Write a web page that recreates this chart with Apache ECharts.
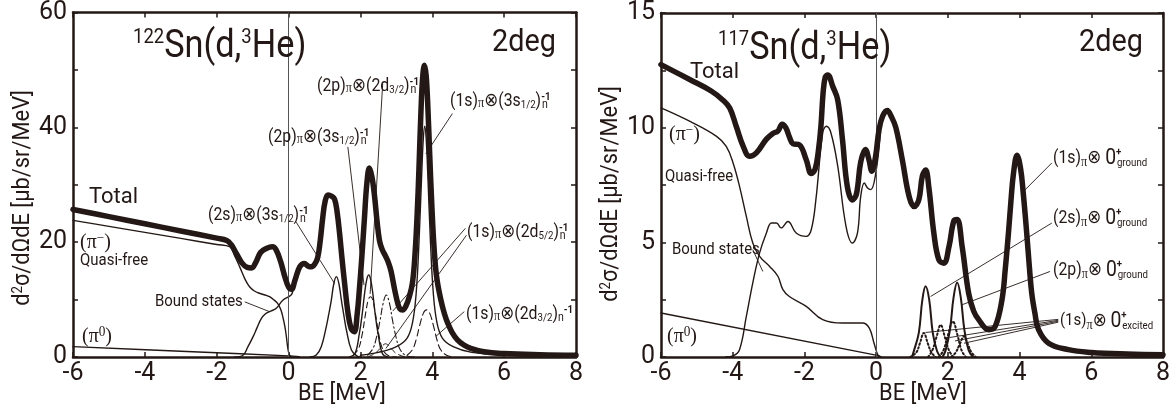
<!DOCTYPE html>
<html>
<head>
<meta charset="utf-8">
<script src="https://cdn.jsdelivr.net/npm/echarts@6/dist/echarts.min.js"></script>
<style>
html, body { margin: 0; padding: 0; background: #fff; }
#chart { width: 1173px; height: 412px; }
</style>
</head>
<body>
<div id="chart"></div>
<script>
// 颜色和字体
var INK = '#231815';
var FONT = 'Roboto';
var SERIF = 'Liberation Serif';

// 坐标轴
var xMin = -6, xMax = 8, xStep = 2;
var leftYMax = 60, leftYStep = 10, leftYLabelStep = 20;
var rightYMax = 15, rightYStep = 2.5, rightYLabelStep = 5;

// ---------------- 122Sn (左图) ----------------
var leftTotal = [[-6,25.7],[-5,24.45],[-4,23.2],[-3,21.95],[-2,20.7],[-1.72,20.3],[-1.6,19.6],[-1.45,18.0],[-1.3,16.4],[-1.15,15.6],[-1.03,15.5],[-0.92,16.4],[-0.78,18.2],[-0.62,18.9],[-0.45,19.2],[-0.35,18.7],[-0.22,16.6],[-0.1,13.9],[0.0,12.2],[0.08,11.8],[0.18,13.4],[0.31,15.7],[0.44,16.3],[0.55,15.8],[0.64,15.7],[0.73,16.2],[0.81,17.3],[0.88,20.2],[0.95,24.2],[1.02,27.2],[1.1,28.2],[1.2,28.0],[1.28,27.5],[1.35,25.3],[1.42,21.5],[1.49,17.0],[1.56,12.8],[1.65,7.8],[1.74,5.0],[1.83,4.4],[1.91,7.5],[1.97,11.7],[2.04,17.5],[2.11,24.0],[2.18,30.3],[2.25,32.9],[2.32,31.4],[2.39,28.2],[2.46,23.8],[2.53,20.3],[2.6,18.8],[2.68,17.8],[2.77,16.6],[2.85,15.0],[2.95,11.8],[3.04,9.3],[3.1,8.4],[3.17,8.2],[3.26,8.8],[3.36,10.5],[3.45,13],[3.52,18],[3.58,25],[3.63,33],[3.68,42],[3.73,48.5],[3.78,50.8],[3.83,49],[3.88,43],[3.93,35],[3.99,26],[4.05,19],[4.12,14],[4.24,9.9],[4.34,7.5],[4.43,5.9],[4.55,4.3],[4.7,3.0],[4.88,2.1],[5.07,1.5],[5.44,0.9],[6,0.6],[7,0.4],[8,0.3]];
var leftQuasiFree = [[-6,23.8],[-5,22.75],[-4,21.7],[-3,20.65],[-2,19.6],[-1.64,19.2],[-1.5,17.6],[-1.36,15.7],[-1.2,13.4],[-1.08,12.2],[-0.95,11.5],[-0.81,11.1],[-0.65,10.8],[-0.53,10.5],[-0.4,9.9],[-0.3,9.3],[-0.22,8.3],[-0.16,7.0],[-0.1,5.2],[-0.06,3.5],[-0.02,1.5],[0.03,0.3],[0.1,0]];
var leftBound = [[-1.5,0],[-1.27,0.3],[-1.13,1.8],[-0.99,3.5],[-0.87,5.2],[-0.76,6.7],[-0.65,7.5],[-0.53,7.9],[-0.34,8.5],[-0.16,9.9],[0.07,10.8],[0.12,11.6]];
var leftPi0 = [[-6,1.8],[-3,1.0],[0,0.2],[0.3,0.05]];
var left2s3s = [[0.6,0],[0.77,0.35],[0.91,1.8],[1.05,5.3],[1.12,7.5],[1.19,9.9],[1.26,12.8],[1.33,14.0],[1.4,12.8],[1.47,9.9],[1.54,7.2],[1.61,4.7],[1.75,1.2],[1.9,0.2],[2.0,0]];
var left2p3s = [[1.7,0],[1.85,0.6],[1.97,4.1],[2.05,7.5],[2.12,11.3],[2.18,13.6],[2.23,14.3],[2.28,13.6],[2.34,11.3],[2.41,7.5],[2.49,4.1],[2.61,0.6],[2.75,0]];
var left2p2d = [[1.8,0.3],[1.95,1.5],[2.05,4],[2.15,7.8],[2.22,10],[2.28,10.5],[2.34,10],[2.41,7.8],[2.51,4],[2.61,1.5],[2.76,0.3],[3,0]];
var left1s2d5a = [[2.2,0.3],[2.35,1.5],[2.45,3.5],[2.55,6.5],[2.63,9.3],[2.72,10.8],[2.81,9.3],[2.89,6.5],[2.99,3.5],[3.09,1.5],[3.25,0.3],[3.5,0]];
var left1s2d5b = [[2.2,0],[2.4,0.6],[2.55,1.5],[2.7,2.3],[2.85,1.5],[3.0,0.6],[3.25,0]];
var left1s3s = [[2.0,0.3],[2.5,0.8],[3.0,1.8],[3.3,3.3],[3.45,6],[3.55,11],[3.63,20],[3.7,31],[3.75,38],[3.79,40.2],[3.83,38],[3.88,31],[3.95,20],[4.03,11],[4.13,6],[4.28,3.3],[4.58,1.8],[5.1,0.8],[6,0.35],[8,0.15]];
var left1s2d3 = [[3.3,0.3],[3.45,1.3],[3.55,3],[3.65,5.5],[3.75,7.6],[3.84,8.2],[3.93,7.6],[4.03,5.5],[4.13,3],[4.23,1.3],[4.4,0.3],[4.6,0]];

// ---------------- 117Sn (右图) ----------------
var rightTotal = [[-6,12.75],[-5.2,12.1],[-4.6,11.6],[-4.27,11.2],[-4.08,10.85],[-3.9,10.05],[-3.71,9.2],[-3.53,8.75],[-3.34,8.9],[-3.06,9.5],[-2.88,9.75],[-2.74,9.85],[-2.62,10.15],[-2.52,10.0],[-2.42,9.6],[-2.32,9.3],[-2.14,9.25],[-1.95,8.6],[-1.81,8.0],[-1.7,8.2],[-1.61,9.0],[-1.54,10.05],[-1.48,11.5],[-1.42,12.2],[-1.35,12.3],[-1.21,11.8],[-1.07,11.2],[-0.94,9.5],[-0.8,7.4],[-0.66,6.85],[-0.55,7.1],[-0.43,8.5],[-0.3,9.05],[-0.2,8.6],[-0.12,8.1],[-0.02,8.7],[0.08,9.9],[0.18,10.5],[0.31,10.75],[0.42,10.5],[0.55,10.0],[0.73,8.6],[0.92,7.0],[1.06,6.56],[1.19,6.85],[1.29,7.9],[1.38,8.15],[1.47,7.4],[1.61,5.4],[1.75,4.23],[1.89,4.09],[2.03,4.8],[2.17,5.95],[2.26,6.0],[2.4,4.8],[2.58,2.78],[2.72,2.0],[2.86,1.63],[3.14,1.19],[3.32,1.33],[3.51,2.5],[3.6,3.8],[3.69,5.4],[3.76,6.8],[3.83,8.0],[3.93,8.8],[4.03,8.2],[4.1,7.2],[4.2,5.4],[4.27,4.0],[4.34,2.78],[4.43,1.9],[4.53,1.19],[4.81,0.6],[5.36,0.32],[6,0.2],[7,0.13],[8,0.1]];
var rightQuasiFree = [[-6,10.86],[-5.19,10.27],[-4.45,9.62],[-4.18,9.18],[-3.99,8.46],[-3.81,7.44],[-3.62,6.13],[-3.44,4.97],[-3.25,4.39],[-2.97,3.95],[-2.74,3.52],[-2.6,2.94],[-2.42,2.64],[-1.95,2.21],[-1.49,1.63],[-0.94,1.48],[-0.38,1.48],[-0.19,1.26],[-0.06,0.61],[0.06,0.05],[0.15,0]];
var rightBound = [[-4.2,0],[-3.99,0.05],[-3.81,0.32],[-3.62,1.77],[-3.44,3.23],[-3.25,4.54],[-3.06,5.41],[-2.92,5.84],[-2.78,5.84],[-2.65,5.63],[-2.46,5.91],[-2.23,5.41],[-1.95,5.26],[-1.81,5.55],[-1.68,6.86],[-1.49,9.77],[-1.39,10.06],[-1.26,9.77],[-1.07,8.31],[-0.84,5.7],[-0.66,4.97],[-0.52,5.41],[-0.43,7.0],[-0.33,7.59],[-0.24,7.37],[-0.15,7.3],[-0.01,8.02],[0.12,9.8]];
var rightPi0 = [[-6,1.92],[0.1,0.05]];
var right2s = [[1.0,0],[1.06,0.3],[1.19,1.05],[1.29,2.5],[1.38,3.08],[1.48,2.5],[1.58,1.05],[1.7,0.25],[1.8,0]];
var right2p = [[1.85,0],[1.94,0.3],[2.06,1.2],[2.16,2.6],[2.26,3.25],[2.36,2.6],[2.46,1.2],[2.58,0.3],[2.7,0]];
var rightExcA = [[0.95,0],[1.12,0.2],[1.22,0.6],[1.33,1.05],[1.44,0.6],[1.54,0.2],[1.66,0]];
var rightExcB = [[1.45,0],[1.57,0.3],[1.68,0.85],[1.8,1.4],[1.92,0.85],[2.03,0.3],[2.15,0]];
var rightExcC = [[1.75,0],[1.88,0.3],[2.0,0.95],[2.14,1.55],[2.27,0.95],[2.38,0.3],[2.5,0]];
var rightExcD = [[2.1,0],[2.22,0.2],[2.33,0.55],[2.45,0.9],[2.56,0.55],[2.66,0.2],[2.78,0]];

// 引线 (数据坐标)
var leftLeaders = [
    [[-1.22,9.6],[-0.53,7.9]],
    [[0.21,23.5],[1.28,12.8]],
    [[1.65,36.6],[2.1,12.5]],
    [[2.62,47.6],[2.27,11]],
    [[4.56,42.4],[3.82,35.4]],
    [[4.92,22.4],[2.9,8.0]],
    [[4.95,21.2],[2.71,1.5]],
    [[4.89,7.9],[4.1,3.6]]
];
var rightLeaders = [
    [[-3.44,4.68],[-3.16,3.73]],
    [[4.9,8.46],[4.11,7.22]],
    [[4.9,5.84],[1.52,2.64]],
    [[4.85,3.73],[2.4,2.28]],
    [[5.08,1.64],[1.38,1.07]],
    [[5.08,1.6],[2.05,0.85]],
    [[5.08,1.56],[2.2,0.7]],
    [[5.08,1.52],[2.45,0.6]]
];


function tok(size, va, family, extra) {
    var t = { fontSize: size, fontFamily: family || FONT, fill: INK };
    if (va) t.verticalAlign = va;
    for (var k in extra) t[k] = extra[k];
    return t;
}
var RICH = {
    t: tok(21, 'top'),
    q: tok(14, 'top', SERIF),
    p: tok(14, 'bottom', SERIF),
    o: tok(19, null, 'DejaVu Sans'),
    f: tok(11, 'bottom'),
    n: tok(12, 'bottom'),
    e: tok(11, 'top', FONT, { fontWeight: 'bold' }),
    e0: tok(11, 'top', FONT, { fontWeight: 'bold', width: 1 }),
    z: tok(22),
    g: tok(11, 'bottom'),
    su: tok(14, 'top')
};

function label(x, y, text, size, opt) {
    opt = opt || {};
    return {
        type: 'text', x: x, y: y, z: 100, silent: true,
        scaleX: opt.sx || 0.88, rotation: opt.rot || 0,
        style: {
            text: text, fontSize: size, fontFamily: opt.font || FONT, fill: INK,
            align: opt.align || 'left', verticalAlign: 'middle', rich: RICH
        }
    };
}

function line(data, idx, width, type, z) {
    return {
        type: 'line', xAxisIndex: idx, yAxisIndex: idx, data: data,
        showSymbol: false, symbol: 'none', smooth: 0.4,
        silent: true, z: z || 2,
        lineStyle: { color: INK, width: width, type: type || 'solid', cap: 'round', join: 'round' }
    };
}

function leaders(list) {
    var d = [{ xAxis: 0, lineStyle: { width: 1, color: '#555', type: 'solid' } }];
    list.forEach(function (l) {
        d.push([{ coord: l[0] }, { coord: l[1] }]);
    });
    return {
        symbol: ['none', 'none'], silent: true, animation: false,
        label: { show: false },
        lineStyle: { color: INK, width: 0.9, type: 'solid' },
        data: d
    };
}

function xAx(grid, pos, labels) {
    return {
        type: 'value', gridIndex: grid, position: pos, min: xMin, max: xMax, interval: xStep,
        axisLine: { show: true, onZero: false, lineStyle: { color: INK, width: 2.5 } },
        axisTick: { show: true, inside: true, length: 5, lineStyle: { color: INK, width: 1.5 } },
        axisLabel: { show: labels, color: INK, fontSize: 25, fontFamily: FONT, margin: 4, showMinLabel: true, showMaxLabel: true },
        splitLine: { show: false }
    };
}
function yAx(grid, pos, max, step, labelStep, labels) {
    return {
        type: 'value', gridIndex: grid, position: pos, min: 0, max: max, interval: step,
        axisLine: { show: true, onZero: false, lineStyle: { color: INK, width: 2.5 } },
        axisTick: { show: true, inside: true, length: 5, lineStyle: { color: INK, width: 1.5 } },
        axisLabel: {
            show: labels, color: INK, fontSize: 25, fontFamily: FONT, margin: 6,
            showMinLabel: true, showMaxLabel: true,
            formatter: function (v) { return Math.abs(v % labelStep) < 1e-9 ? String(v) : ''; }
        },
        splitLine: { show: false }
    };
}

var lp0 = line(leftPi0, 0, 1.4);
lp0.markLine = leaders(leftLeaders);
var rp0 = line(rightPi0, 1, 1.4);
rp0.markLine = leaders(rightLeaders);

var option = {
    animation: false,
    backgroundColor: '#fff',
    grid: [
        { left: 73, top: 12, width: 503, height: 345 },
        { left: 661, top: 13, width: 503, height: 344 }
    ],
    xAxis: [xAx(0, 'bottom', true), xAx(1, 'bottom', true), xAx(0, 'top', false), xAx(1, 'top', false)],
    yAxis: [
        yAx(0, 'left', leftYMax, leftYStep, leftYLabelStep, true),
        yAx(1, 'left', rightYMax, rightYStep, rightYLabelStep, true),
        yAx(0, 'right', leftYMax, leftYStep, leftYLabelStep, false),
        yAx(1, 'right', rightYMax, rightYStep, rightYLabelStep, false)
    ],
    series: [
        lp0,
        line(leftQuasiFree, 0, 1.4),
        line(leftBound, 0, 1.4),
        line(left2s3s, 0, 1.4),
        line(left2p3s, 0, 1.4),
        line(left2p2d, 0, 1.1, [6, 4]),
        line(left1s2d5a, 0, 1.1, [7, 3, 1.5, 3]),
        line(left1s2d5b, 0, 1.0, [6, 4]),
        line(left1s3s, 0, 1.4),
        line(left1s2d3, 0, 1.1, [7, 4]),
        line(leftTotal, 0, 5.5, 'solid', 5),
        rp0,
        line(rightQuasiFree, 1, 1.4),
        line(rightBound, 1, 1.4),
        line(right2s, 1, 2),
        line(right2p, 1, 2),
        line(rightExcA, 1, 2, [1.5, 2.5]),
        line(rightExcB, 1, 2, [1.5, 2.5]),
        line(rightExcC, 1, 2, [1.5, 2.5]),
        line(rightExcD, 1, 2, [1.5, 2.5]),
        line(rightTotal, 1, 5.5, 'solid', 5)
    ],
    graphic: { elements: [
        // 左图
        label(23, 198, 'd{su|2}σ/dΩdE [μb/sr/MeV]', 23, { rot: Math.PI / 2, align: 'center', sx: 0.95 }),
        label(342, 394, 'BE [MeV]', 23, { align: 'center', sx: 0.95 }),
        label(133, 47, '{t|122}Sn(d,{t|3}He)', 39),
        label(492, 43, '2deg', 31, { sx: 0.93 }),
        label(89, 197, 'Total', 22, { sx: 1 }),
        label(80, 242, '(π{q|−})', 21, { font: SERIF, sx: 0.95 }),
        label(80, 261, 'Quasi-free', 17),
        label(155, 302, 'Bound states', 17),
        label(82, 336, '(π{q|0})', 21, { font: SERIF, sx: 0.95 }),
        label(208, 215, '(2s){p|π}{o|⊗}(3s{f|1/2}){e0|-1}{n|n}', 18),
        label(268, 137, '(2p){p|π}{o|⊗}(3s{f|1/2}){e0|-1}{n|n}', 18),
        label(317, 86, '(2p){p|π}{o|⊗}(2d{f|3/2}){e0|-1}{n|n}', 18),
        label(450, 101, '(1s){p|π}{o|⊗}(3s{f|1/2}){e0|-1}{n|n}', 18),
        label(467, 232, '(1s){p|π}{o|⊗}(2d{f|5/2}){e0|-1}{n|n}', 18),
        label(466, 314, '(1s){p|π}{o|⊗}(2d{f|3/2}){n|n}{e|-1}', 18),
        // 右图
        label(611, 194, 'd{su|2}σ/dΩdE [μb/sr/MeV]', 23, { rot: Math.PI / 2, align: 'center', sx: 0.95 }),
        label(923, 394, 'BE [MeV]', 23, { align: 'center', sx: 0.95 }),
        label(718, 49, '{t|117}Sn(d,{t|3}He)', 39),
        label(1079, 43, '2deg', 31, { sx: 0.93 }),
        label(690, 72, 'Total', 22, { sx: 1 }),
        label(669, 134, '(π{q|−})', 21, { font: SERIF, sx: 0.95 }),
        label(665, 177, 'Quasi-free', 17),
        label(672, 250, 'Bound states', 17),
        label(667, 336, '(π{q|0})', 21, { font: SERIF, sx: 0.95 }),
        label(1053, 158, '(1s){p|π}{o|⊗} {z|0}{e0|+}{g|ground}', 18),
        label(1053, 218, '(2s){p|π}{o|⊗} {z|0}{e0|+}{g|ground}', 18),
        label(1053, 270, '(2p){p|π}{o|⊗} {z|0}{e0|+}{g|ground}', 18),
        label(1060, 321, '(1s){p|π}{o|⊗} {z|0}{e0|+}{g|excited}', 17)
    ] }
};

window.onload = function () {
    var chart = echarts.init(document.getElementById('chart'), null, { renderer: 'canvas' });
    chart.setOption(option);
};
</script>
</body>
</html>
